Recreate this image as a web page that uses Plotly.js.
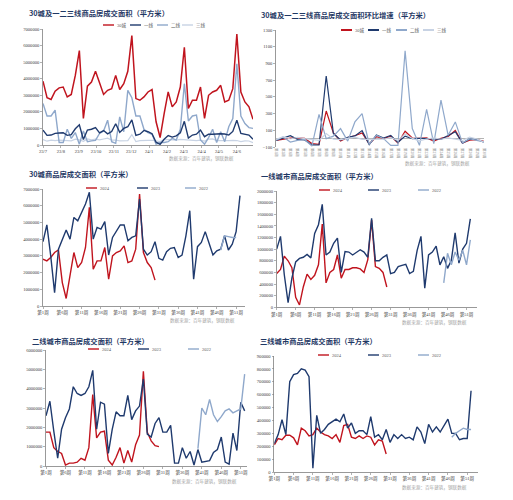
<!DOCTYPE html>
<html><head><meta charset="utf-8">
<script src="https://cdn.plot.ly/plotly-3.0.1.min.js"></script>
<style>html,body{margin:0;padding:0;background:#fff}#c{width:513px;height:500px}</style>
</head><body><div id="c"></div>
<script>
// ---- data (weekly transaction area, sqm) ----
const c30_2023 = [3.85,4.85,3.0,0.8,3.4,4.0,4.55,4.0,5.3,5.1,5.6,6.1,6.8,4.0,4.7,4.6,5.05,3.05,4.1,4.5,4.85,4.85,3.9,4.1,4.2,6.4,3.4,3.05,3.25,3.85,2.85,2.75,3.25,3.45,3.5,2.9,3.05,4.2,5.7,1.6,3.55,3.8,4.45,3.75,3.05,3.3,3.4,4.2,3.35,3.7,4.45,6.6].map(v=>v*1e6);
const c30_2024 = [2.8,2.7,2.9,3.2,3.35,1.4,0.45,1.9,3.2,2.3,2.6,3.5,5.9,2.2,2.7,2.7,3.5,1.6,3.0,3.2,3.3,3.6,2.6,2.7,3.4,6.7,3.2,2.6,2.3,1.55].map(v=>v*1e6);
const c30_2022 = [3.35,4.2,4.15,4.1,4.1].map(v=>v*1e6);
const c30_2022_start = 47;

const t1_2023 = [1.00,1.22,0.56,0.08,0.5,0.78,0.84,0.86,0.91,0.85,1.27,1.42,1.77,0.9,0.95,1.1,1.19,0.6,0.96,0.95,0.9,0.95,0.99,0.95,0.86,1.53,0.8,0.8,0.86,0.9,0.58,0.6,0.7,0.72,0.74,0.58,0.62,0.98,1.22,0.33,0.9,0.95,1.05,0.73,0.87,0.67,0.81,1.28,0.76,1.0,1.1,1.52].map(v=>v*1e6);
const t1_2024 = [0.58,0.65,0.88,0.8,0.68,0.17,0.04,0.35,0.57,0.48,0.55,0.73,1.43,0.42,0.6,0.65,0.9,0.5,0.65,0.65,0.68,0.68,0.66,0.6,0.82,1.5,0.7,0.67,0.6,0.35].map(v=>v*1e6);
const t1_2022 = [0.42,0.93,0.73,0.95,0.81,0.98,0.73,1.16].map(v=>v*1e6);
const t1_2022_start = 45;

const t2_2023 = [2.6,3.35,1.8,0.4,1.9,2.5,2.95,4.1,3.75,3.65,3.75,4.1,4.95,1.9,3.3,3.2,0.65,1.9,2.8,2.6,2.6,3.65,2.4,2.85,3.1,4.5,1.65,1.5,2.2,2.5,1.75,1.75,2.1,0.15,0.15,0.95,0.4,0.75,0.05,0.85,0.2,0.25,0.28,0.7,0.85,1.5,0.2,0.1,1.7,0.8,3.3,2.85].map(v=>v*1e6);
const t2_2024 = [1.75,1.75,0.95,0.75,0.65,0.05,0.15,0.15,0.2,0.4,0.3,0.95,3.7,1.45,1.75,1.8,0.3,0.05,0.45,0.95,0.15,0.8,0.2,1.1,1.6,4.9,1.75,1.3,1.05,1.0].map(v=>v*1e6);
const t2_2022 = [0.9,3.0,2.65,3.45,2.65,2.3,2.55,2.85,2.95,2.75,2.85,2.95,4.75].map(v=>v*1e6);
const t2_2022_start = 40;

const t3_2023 = [220,290,405,290,700,755,765,800,790,740,30,440,300,330,370,390,410,390,450,340,380,300,320,320,290,430,270,290,250,330,230,290,260,290,260,270,250,350,310,220,370,310,350,310,360,410,300,300,250,260,260,630].map(v=>v*1e3);
const t3_2024 = [210,260,250,285,285,265,210,340,320,280,290,340,310,290,280,260,290,230,360,370,270,260,280,260,280,270,210,250,240,140].map(v=>v*1e3);
const t3_2022 = [270,300,320,340,330,330].map(v=>v*1e3);
const t3_2022_start = 47;

// week-on-week growth (%), 2024 weeks 1-30
const g30 = [-20,-5,7,10,5,-58,-68,330,68,-28,13,35,69,-63,23,0,30,-54,88,7,3,9,-28,4,26,97,-52,-19,-12,-33];
const g1  = [-20,12,35,-9,-15,-75,-76,750,63,-16,15,33,96,-71,43,8,38,-44,30,0,5,0,-3,-9,37,83,-53,-4,-10,-42];
const g2  = [-20,20,-40,-20,-10,-90,290,0,30,120,-30,200,300,-70,40,0,-80,-80,1050,120,-80,350,-60,460,40,200,-50,0,-20,-40];
const g3  = [-10,24,-4,14,0,-7,-21,62,-6,-12,4,17,-9,-6,-3,-7,12,-21,57,3,-27,-4,8,-7,8,-4,-22,19,-4,-42];
const gLabels = ['第1周','第2周','第3周','第4周','第5周','第6周','第7周','第8周','第9周','第10周','第11周','第12周','第13周','第14周','第15周','第16周','第17周','第18周','第19周','第20周','第21周','第22周','第23周','第24周','第25周','第26周','第27周','第28周','第29周','第30周'];

const weekTickVals = [1,6,11,16,21,26,31,36,41,46,51];
const weekTickText = ['第1周','第6周','第11周','第16周','第21周','第26周','第31周','第36周','第41周','第46周','第51周'];
const seriesNames = ['30城','一线','二线','三线'];
const yearNames = ['2024','2023','2022'];
const firstWeekStart = '2023-07-01';
const splitWeek2023 = 30; // top-left combined series starts at 2023 week 30

// ---- styles ----
const RED='#C0141E', NAVY='#1F3A6E', LIGHT='#8FA8CB', PALE='#C8D3E4';
const TITLE_C='#1F3864', TICK_C='#404040', AX_C='#7F7F7F', SRC_C='#A6A6A6';
const FONT='Liberation Serif, Noto Sans CJK SC, serif';
const CJK='Noto Sans CJK SC';
const W=513,H=500;
const px=x=>x/W, py=y=>1-y/H;

function weeks(n,start){return Array.from({length:n},(_, i)=>start+i);}
function datesFrom(start,n){const d0=new Date(start+'T00:00:00Z');return Array.from({length:n},(_, i)=>{const d=new Date(d0.getTime()+i*7*86400000);return d.toISOString().slice(0,10);});}

const traces=[];
function line(x,y,color,xa,ya,w){traces.push({x:x,y:y,type:'scatter',mode:'lines',line:{color:color,width:w||1.4},xaxis:xa,yaxis:ya,showlegend:false,hoverinfo:'skip'});}

// P1 combined
const comb30 = c30_2023.slice(splitWeek2023-1).concat(c30_2024);
const comb1 = t1_2023.slice(splitWeek2023-1).concat(t1_2024);
const comb2 = t2_2023.slice(splitWeek2023-1).concat(t2_2024);
const comb3 = t3_2023.slice(splitWeek2023-1).concat(t3_2024);
const d1 = datesFrom(firstWeekStart, comb30.length);
line(d1,comb3,PALE,'x','y',1.2);
line(d1,comb2,LIGHT,'x','y',1.4);
line(d1,comb1,NAVY,'x','y',1.4);
line(d1,comb30,RED,'x','y',1.5);

// P2 growth
const gx = gLabels.map((_, i)=>i);
line(gx,g30,RED,'x2','y2',1.2);
line(gx,g1,NAVY,'x2','y2',1.2);
line(gx,g2,LIGHT,'x2','y2',1.2);
line(gx,g3,PALE,'x2','y2',1.2);

// P3..P6
const panels=[
 [c30_2024,c30_2023,c30_2022,c30_2022_start,'x3','y3'],
 [t1_2024,t1_2023,t1_2022,t1_2022_start,'x4','y4'],
 [t2_2024,t2_2023,t2_2022,t2_2022_start,'x5','y5'],
 [t3_2024,t3_2023,t3_2022,t3_2022_start,'x6','y6']];
panels.forEach(p=>{
  line(weeks(p[0].length,1),p[0],RED,p[4],p[5],1.4);
  line(weeks(p[1].length,1),p[1],NAVY,p[4],p[5],1.4);
  line(weeks(p[2].length,p[3]),p[2],LIGHT,p[4],p[5],1.4);
});

const tf={family:FONT,size:4.6,color:TICK_C};
function yax(dom,range,dtick,x0,extra){return Object.assign({domain:[py(dom[1]),py(dom[0])],range:range,dtick:dtick,tick0:range[0],showgrid:false,zeroline:false,showline:true,linecolor:AX_C,linewidth:0.8,ticks:'outside',ticklen:2,tickwidth:0.6,tickcolor:AX_C,tickfont:tf,tickformat:'d',fixedrange:true},extra||{});}
function xax(dom,range,extra){return Object.assign({domain:[px(dom[0]),px(dom[1])],range:range,showgrid:false,zeroline:false,showline:true,linecolor:AX_C,linewidth:0.8,ticks:'outside',ticklen:2,tickwidth:0.6,tickcolor:AX_C,tickfont:tf,fixedrange:true},extra||{});}

const layout={
  width:W,height:H,margin:{l:0,r:0,t:0,b:0},paper_bgcolor:'#fff',plot_bgcolor:'#fff',showlegend:false,
  font:{family:FONT},
  xaxis: xax([43,253],[d1[0],d1[d1.length-1]],{type:'date',dtick:'M1',tick0:'2023-07-01',tickformat:'%y/%-m',anchor:'y'}),
  yaxis: yax([29,145],[0,7000000],1000000),
  xaxis2: xax([276,484],[0,29],{tickvals:gx,ticktext:gLabels,tickangle:90,tickfont:{family:FONT,size:3.5,color:'#8A8A8A'},anchor:'y2',showline:false,ticks:''}),
  yaxis2: yax([30,147],[-100,1300],200,0,{zeroline:true,zerolinecolor:'#A0A0A0',zerolinewidth:0.8,anchor:'x2'}),
  xaxis3: xax([43,245],[1,53.3],{tickvals:weekTickVals,ticktext:weekTickText,anchor:'y3'}),
  yaxis3: yax([189,306],[0,7000000],1000000,0,{anchor:'x3'}),
  xaxis4: xax([276.7,477],[1,53.76],{tickvals:weekTickVals,ticktext:weekTickText,anchor:'y4'}),
  yaxis4: yax([191,307.3],[0,2000000],200000,0,{anchor:'x4'}),
  xaxis5: xax([46,247],[1,52.6],{tickvals:weekTickVals,ticktext:weekTickText,anchor:'y5'}),
  yaxis5: yax([350,466],[0,6000000],1000000,0,{anchor:'x5'}),
  xaxis6: xax([274.3,478],[1,53.8],{tickvals:weekTickVals,ticktext:weekTickText,anchor:'y6'}),
  yaxis6: yax([356,472],[0,900000],100000,0,{anchor:'x6'}),
  annotations:[],shapes:[]
};

function txt(x,y,t,size,color,family,anchor){layout.annotations.push({xref:'paper',yref:'paper',x:px(x),y:py(y),text:t,showarrow:false,xanchor:anchor||'left',yanchor:'middle',font:{size:size,color:color,family:family||CJK}});}
function legLine(x0,x1,y,color,w){layout.shapes.push({type:'line',xref:'paper',yref:'paper',x0:px(x0),x1:px(x1),y0:py(y),y1:py(y),line:{color:color,width:w||1.4}});}

// titles
const titles=[[27,13,'30城及一二三线商品房成交面积（平方米）'],[259,15,'30城及一二三线商品房成交面积环比增速（平方米）'],[27,174,'30城商品房成交面积（平方米）'],[259,176,'一线城市商品房成交面积（平方米）'],[30,341,'二线城市商品房成交面积（平方米）'],[258,341,'三线城市商品房成交面积（平方米）']];
titles.forEach(t=>txt(t[0],t[1],'<b>'+t[2]+'</b>',7.3,TITLE_C));

// legends
const legColors4=[RED,NAVY,LIGHT,PALE];
[[103,130,157,182],[341,368,396,423]].forEach((xs,k)=>{
  const y=k===0?25:30;
  xs.forEach((x,i)=>{legLine(x,x+11,y,legColors4[i],k===1?2:1.4);txt(x+12,y,seriesNames[i],4.5,'#595959',FONT);});
});
const legColors3=[RED,NAVY,LIGHT];
[[86,137,185,188],[319,368,418,190],[88,138,188,349],[318,368,418,355]].forEach(l=>{
  for(let i=0;i<3;i++){legLine(l[i],l[i]+11,l[3],legColors3[i],1.4);txt(l[i]+12,l[3],yearNames[i],4.5,'#595959',FONT);}
});

// sources
[[167,158],[403,163],[168,320],[400,322],[170,481],[400,487]].forEach(s=>txt(s[0],s[1],'数据来源：百年建筑，钢联数据',4.6,SRC_C));

Plotly.newPlot('c',traces,layout,{staticPlot:true,displayModeBar:false});
</script></body></html>
